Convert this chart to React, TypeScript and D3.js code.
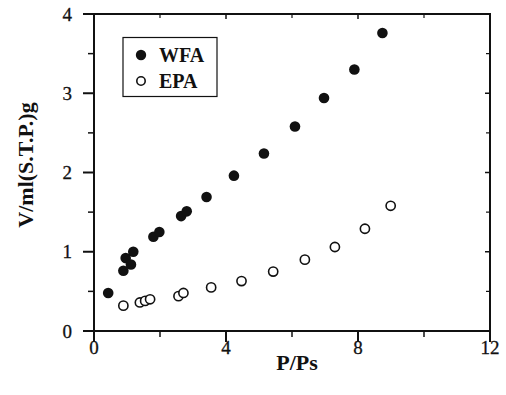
import React from 'react';
import * as d3 from 'd3';

// WFA (filled circles)
const wfaX = [0.43, 0.89, 0.96, 1.12, 1.19, 1.8, 1.98, 2.64, 2.81, 3.41, 4.24, 5.15, 6.09, 6.97, 7.89, 8.74];
const wfaY = [0.48, 0.76, 0.92, 0.84, 1.0, 1.19, 1.25, 1.45, 1.51, 1.69, 1.96, 2.24, 2.58, 2.94, 3.3, 3.76];

// EPA (open circles)
const epaX = [0.89, 1.39, 1.55, 1.7, 2.56, 2.71, 3.55, 4.47, 5.43, 6.39, 7.3, 8.21, 8.99];
const epaY = [0.32, 0.36, 0.38, 0.4, 0.44, 0.48, 0.55, 0.63, 0.75, 0.9, 1.06, 1.29, 1.58];

const xMajor = [0, 4, 8, 12];
const xMinor = [2, 6, 10];
const yMajor = [0, 1, 2, 3, 4];
const yMinor = [0.5, 1.5, 2.5, 3.5];

const seriesNames = ['WFA', 'EPA'];

const App = () => {
    const width = 506;
    const height = 395;
    const left = 94, right = 490, top = 14, bottom = 331;

    const x = d3.scaleLinear().domain([0, 12]).range([left, right]);
    const y = d3.scaleLinear().domain([0, 4]).range([bottom, top]);

    const font = '"Liberation Serif", "Times New Roman", serif';
    const ink = '#111';

    return (
        <svg width={width} height={height} style={{ position: 'absolute', left: 0, top: 0, background: '#fff' }} fontFamily={font}>
            {/* frame */}
            <rect x={left} y={top} width={right - left} height={bottom - top} fill="none" stroke={ink} strokeWidth={2} />

            {/* x ticks */}
            {xMajor.map((v) => (
                <g key={`xm-${v}`}>
                    <line x1={x(v)} x2={x(v)} y1={bottom} y2={bottom + 11} stroke={ink} strokeWidth={2} />
                    <line x1={x(v)} x2={x(v)} y1={top} y2={top + 5} stroke={ink} strokeWidth={1.5} />
                    <text x={x(v)} y={354} textAnchor="middle" fontSize={19} fill={ink} stroke={ink} strokeWidth={0.3}>{v}</text>
                </g>
            ))}
            {xMinor.map((v) => (
                <g key={`xn-${v}`}>
                    <line x1={x(v)} x2={x(v)} y1={bottom} y2={bottom + 6} stroke={ink} strokeWidth={1.5} />
                    <line x1={x(v)} x2={x(v)} y1={top} y2={top + 4} stroke={ink} strokeWidth={1.2} />
                </g>
            ))}

            {/* y ticks */}
            {yMajor.map((v) => (
                <g key={`ym-${v}`}>
                    <line x1={left - 11} x2={left} y1={y(v)} y2={y(v)} stroke={ink} strokeWidth={2} />
                    <line x1={right - 5} x2={right} y1={y(v)} y2={y(v)} stroke={ink} strokeWidth={1.5} />
                    <text x={72} y={y(v) + 6.5} textAnchor="end" fontSize={19} fill={ink} stroke={ink} strokeWidth={0.3}>{v}</text>
                </g>
            ))}
            {yMinor.map((v) => (
                <g key={`yn-${v}`}>
                    <line x1={left - 6} x2={left} y1={y(v)} y2={y(v)} stroke={ink} strokeWidth={1.5} />
                    <line x1={right - 4} x2={right} y1={y(v)} y2={y(v)} stroke={ink} strokeWidth={1.2} />
                </g>
            ))}

            {/* axis titles */}
            <text x={297} y={370} textAnchor="middle" fontSize={22} fontWeight="bold" fill={ink}>P/Ps</text>
            <text transform={`translate(33, 165) rotate(-90)`} textAnchor="middle" fontSize={22} fontWeight="bold" fill={ink}>V/ml(S.T.P.)g</text>

            {/* EPA points */}
            {epaX.map((v, i) => (
                <circle key={`epa-${i}`} cx={x(v)} cy={y(epaY[i])} r={4.6} fill="#fff" stroke={ink} strokeWidth={1.6} />
            ))}
            {/* WFA points */}
            {wfaX.map((v, i) => (
                <circle key={`wfa-${i}`} cx={x(v)} cy={y(wfaY[i])} r={5.3} fill={ink} />
            ))}

            {/* legend */}
            <rect x={123} y={37.5} width={94} height={59} fill="#fff" stroke={ink} strokeWidth={1.2} />
            <circle cx={141} cy={55} r={5.2} fill={ink} />
            <text x={159} y={62} fontSize={20} fontWeight="bold" fill={ink}>{seriesNames[0]}</text>
            <circle cx={141} cy={81} r={4.2} fill="#fff" stroke={ink} strokeWidth={1.6} />
            <text x={159} y={88} fontSize={20} fontWeight="bold" fill={ink}>{seriesNames[1]}</text>
        </svg>
    );
};

export default App;
